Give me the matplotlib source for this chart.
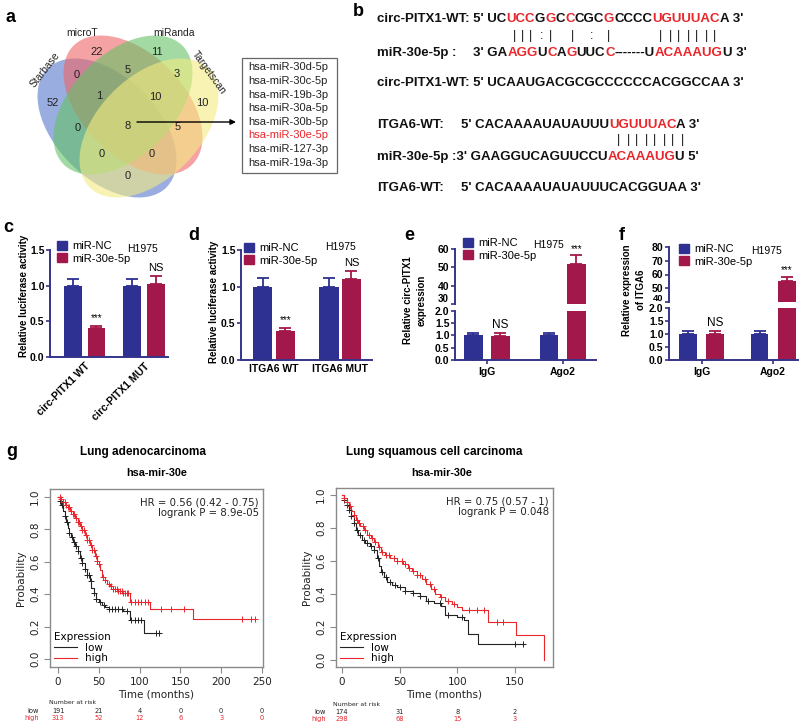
import numpy as np
import matplotlib
matplotlib.use("Agg")
import matplotlib.pyplot as plt
from matplotlib.patches import Ellipse, Rectangle, Patch
from matplotlib.lines import Line2D
from matplotlib.font_manager import FontProperties
import matplotlib.transforms as mtransforms

plt.rcParams['font.family'] = ['Liberation Sans', 'DejaVu Sans']

# ---------------- data ----------------
# panel a: Venn
venn_names = ['Starbase', 'microT', 'miRanda', 'Targetscan']
venn_colors = ['#5577cc', '#ee6466', '#66c266', '#f4ec80']
venn_regions = ['A', 'B', 'C', 'D', 'AB', 'BC', 'CD', 'ABC', 'BCD', 'AC', 'ABCD', 'BD', 'ACD', 'ABD', 'AD']
venn_counts = [52, 22, 11, 10, 0, 5, 3, 1, 10, 0, 8, 5, 0, 0, 0]
common_mirnas = ['hsa-miR-30d-5p', 'hsa-miR-30c-5p', 'hsa-miR-19b-3p', 'hsa-miR-30a-5p',
                 'hsa-miR-30b-5p', 'hsa-miR-30e-5p', 'hsa-miR-127-3p', 'hsa-miR-19a-3p']
highlight_mirna = 'hsa-miR-30e-5p'

# panel c
c_groups = ['circ-PITX1 WT', 'circ-PITX1 MUT']
c_nc = [1.0, 1.0]
c_nc_err = [0.09, 0.10]
c_mir = [0.41, 1.02]
c_mir_err = [0.03, 0.12]
c_marks = ['***', 'NS']
# panel d
d_groups = ['ITGA6 WT', 'ITGA6 MUT']
d_nc = [1.0, 1.0]
d_nc_err = [0.12, 0.12]
d_mir = [0.40, 1.10]
d_mir_err = [0.04, 0.11]
d_marks = ['***', 'NS']
# panel e
e_groups = ['IgG', 'Ago2']
e_nc = [1.0, 1.0]
e_nc_err = [0.12, 0.10]
e_mir = [0.97, 52.0]
e_mir_err = [0.13, 4.5]
e_marks = ['NS', '***']
# panel f
f_groups = ['IgG', 'Ago2']
f_nc = [1.0, 1.0]
f_nc_err = [0.10, 0.10]
f_mir = [1.0, 55.0]
f_mir_err = [0.12, 3.5]
f_marks = ['NS', '***']

# panel g: Kaplan-Meier (step points)
luad_low_t = [0, 2, 4, 6, 8, 10, 12, 14, 16, 18, 21, 24, 27, 30, 33, 36, 39, 41, 44, 47, 50, 54, 58, 62, 80, 88, 105, 125]
luad_low_s = [1.0, 0.975, 0.95, 0.915, 0.88, 0.845, 0.81, 0.78, 0.75, 0.72, 0.695, 0.665, 0.625, 0.59, 0.555, 0.52,
              0.48, 0.44, 0.41, 0.37, 0.35, 0.335, 0.32, 0.31, 0.295, 0.242, 0.16, 0.16]
luad_low_cens = [3, 5, 8, 11, 14, 17, 19, 22, 25, 28, 30, 33, 36, 38, 40, 44, 47, 52, 56, 63, 66, 70, 74, 78,
                 85, 90, 94, 98, 102, 120, 124]
luad_high_t = [0, 3, 6, 9, 12, 15, 18, 21, 24, 27, 30, 33, 36, 39, 42, 45, 48, 50, 52, 54, 57, 60, 64, 68, 73, 79,
               88, 113, 166, 242]
luad_high_s = [1.0, 0.985, 0.97, 0.95, 0.935, 0.915, 0.895, 0.87, 0.845, 0.82, 0.795, 0.765, 0.735, 0.705, 0.67,
               0.635, 0.605, 0.585, 0.55, 0.505, 0.485, 0.465, 0.45, 0.435, 0.42, 0.41, 0.355, 0.31, 0.248, 0.248]
luad_high_cens = [2, 4, 6, 8, 10, 12, 14, 16, 18, 20, 22, 24, 26, 28, 30, 32, 34, 36, 38, 40, 42, 44, 46, 48, 50,
                  55, 58, 62, 65, 68, 70, 72, 74, 76, 78, 80, 82, 84, 86, 90, 94, 98, 102, 106, 110, 126, 138, 154,
                  226, 236, 242]
luad_risk_t = [0, 50, 100, 150, 200, 250]
luad_risk_low = [191, 21, 4, 0, 0, 0]
luad_risk_high = [313, 52, 12, 6, 3, 0]
luad_stats = ['HR = 0.56 (0.42 - 0.75)', 'logrank P = 8.9e-05']

lusc_low_t = [0, 2, 4, 6, 8, 10, 12, 14, 17, 20, 24, 28, 30, 32, 34, 36, 39, 43, 48, 55, 62, 68, 73, 80, 86, 89,
              100, 106, 109, 118, 158]
lusc_low_s = [1.0, 0.97, 0.94, 0.91, 0.87, 0.83, 0.79, 0.76, 0.73, 0.71, 0.69, 0.665, 0.62, 0.57, 0.535, 0.505,
              0.475, 0.455, 0.44, 0.42, 0.405, 0.39, 0.36, 0.345, 0.33, 0.275, 0.26, 0.24, 0.155, 0.10, 0.10]
lusc_low_cens = [2, 4, 6, 8, 10, 13, 16, 19, 22, 25, 28, 31, 35, 38, 42, 46, 50, 55, 62, 68, 75, 85, 92, 104,
                 150, 157]
lusc_high_t = [0, 2, 4, 6, 8, 10, 12, 14, 16, 19, 22, 25, 28, 31, 34, 37, 42, 48, 53, 57, 61, 65, 69, 73, 77, 81,
               85, 89, 95, 100, 104, 127, 151, 175]
lusc_high_s = [1.0, 0.98, 0.96, 0.935, 0.905, 0.88, 0.85, 0.83, 0.81, 0.785, 0.76, 0.74, 0.715, 0.685, 0.655,
               0.635, 0.62, 0.60, 0.58, 0.56, 0.54, 0.515, 0.49, 0.46, 0.43, 0.40, 0.38, 0.355, 0.34, 0.32, 0.303,
               0.232, 0.152, 0.0]
lusc_high_cens = [2, 4, 7, 10, 13, 15, 18, 20, 23, 26, 29, 32, 35, 38, 41, 45, 48, 52, 55, 58, 62, 65, 68, 72,
                  76, 80, 86, 92, 97, 110, 117, 123, 134, 140]
lusc_risk_t = [0, 50, 100, 150]
lusc_risk_low = [174, 31, 8, 2]
lusc_risk_high = [298, 68, 15, 3]
lusc_stats = ['HR = 0.75 (0.57 - 1)', 'logrank P = 0.048']

# ---------------- figure helpers ----------------
W, H = 800, 727
fig = plt.figure(figsize=(W / 100, H / 100), dpi=100)
renderer = fig.canvas.get_renderer()
AR = 'Liberation Sans'
DV = 'DejaVu Sans'


def add_ax(x0, y0, x1, y1):
    return fig.add_axes([x0 / W, 1 - y1 / H, (x1 - x0) / W, (y1 - y0) / H])


def ftext(x, y, s, **kw):
    kw.setdefault('family', AR)
    return fig.text(x / W, 1 - y / H, s, **kw)


def seq_text(x, y, segments, size=9.5, weight='bold'):
    prop = FontProperties(family=AR, size=size, weight=weight)
    wM = renderer.get_text_width_height_descent('M', prop, ismath=False)[0]
    prefix = ''
    for s, col in segments:
        off = 0.0
        if prefix:
            off = renderer.get_text_width_height_descent(prefix + 'M', prop, ismath=False)[0] - wM
        ftext(x + off, y, s, color=col, fontsize=size, fontweight=weight, va='center', ha='left')
        prefix += s


# panel letters
for lab, (lx, ly) in {'a': (11, 18), 'b': (358, 11), 'c': (8, 228), 'd': (194, 236),
                      'e': (409, 236), 'f': (622, 236), 'g': (12, 452)}.items():
    ftext(lx, ly, lab, fontsize=13, fontweight='bold', ha='center', va='center')

# ---------------- panel a ----------------
axa = add_ax(0, 0, 240, 210)
axa.set_xlim(0, 240)
axa.set_ylim(210, 0)
axa.axis('off')
ell_a, ell_b = 84, 51
ell_params = [((107, 128), 45), ((133, 105), 45), ((123, 105), -45), ((149, 128), -45)]
for (cxy, ang), col in zip(ell_params, venn_colors):
    axa.add_patch(Ellipse(cxy, 2 * ell_a, 2 * ell_b, angle=ang, facecolor=col, edgecolor='none', alpha=0.6))
region_pos = {'A': (53, 103), 'B': (97, 52), 'C': (157, 52), 'D': (202, 103), 'AB': (77, 75), 'BC': (128, 70),
              'CD': (177, 74), 'ABC': (99, 96), 'BCD': (155, 97), 'AC': (78, 128), 'ABCD': (128, 126),
              'BD': (178, 127), 'ACD': (102, 154), 'ABD': (152, 154), 'AD': (128, 176)}
for reg, cnt in zip(venn_regions, venn_counts):
    rx, ry = region_pos[reg]
    axa.text(rx, ry, str(cnt), fontsize=8, ha='center', va='center', color='#222222')
name_pos = [((45, 70), 52), ((82, 33), 0), ((174, 33), 0), ((209, 73), -54)]
for nm, ((nx, ny), rot) in zip(venn_names, name_pos):
    axa.text(nx, ny, nm, fontsize=7.5, ha='center', va='center', rotation=rot, color='#222222')
axa.annotate('', xy=(236, 122), xytext=(137, 122),
             arrowprops=dict(arrowstyle='-|>', color='black', lw=1.0, mutation_scale=8, shrinkA=0, shrinkB=0))
fig.add_artist(Rectangle((242 / W, 1 - 173 / H), 95 / W, 115 / H, transform=fig.transFigure,
                         facecolor='white', edgecolor='#666666', lw=0.9))
for i, m in enumerate(common_mirnas):
    ftext(248, 67.5 + i * 13.6, m, fontsize=8, va='center', ha='left',
          color='#e8262b' if m == highlight_mirna else '#222222')

# ---------------- panel b ----------------
K, R = '#111111', '#e8262b'
seq_text(377, 19, [("circ-PITX1-WT: 5' UC", K), ("UCC", R), ("G", K), ("G", R), ("C", K), ("C", R), ("CGC", K),
                   ("G", R), ("CCCC", K), ("UGUUUAC", R), ("A 3'", K)])
pair1 = [(515, '|'), (523, '|'), (531, '|'), (542, ':'), (550, '|'), (572, '|'), (592, ':'), (609, '|'),
         (661, '|'), (670, '|'), (679, '|'), (688, '|'), (697, '|'), (706, '|'), (715, '|')]
for xx, ch in pair1:
    ftext(xx, 36, ch, fontsize=9, ha='center', va='center', color=K)
seq_text(377, 53, [("miR-30e-5p :", K)])
seq_text(473, 53, [("3' GA", K), ("AGG", R), ("U", K), ("C", R), ("A", K), ("G", R), ("UUC", K), ("C", R),
                   ("-------U", K), ("ACAAAUG", R), ("U 3'", K)])
seq_text(377, 83, [("circ-PITX1-WT: 5' UCAAUGACGCGCCCCCCACGGCCAA 3'", K)])
seq_text(377, 125, [("ITGA6-WT:", K)])
seq_text(461, 125, [("5' CACAAAAUAUAUUU", K), ("UGUUUAC", R), ("A 3'", K)])
for j in range(8):
    ftext(619 + j * 9, 140, '|', fontsize=9, ha='center', va='center', color=K)
seq_text(377, 157, [("miR-30e-5p :3' GAAGGUCAGUUCCU", K), ("ACAAAUG", R), ("U 5'", K)])
seq_text(377, 188, [("ITGA6-WT:", K)])
seq_text(461, 188, [("5' CACAAAAUAUAUUUCACGGUAA 3'", K)])

# ---------------- panels c-f ----------------
C_NC = '#2e3092'
C_MIR = '#a3184a'
AXC = '#34348a'


def style_bar_ax(ax, bottom=True):
    for s in ['top', 'right']:
        ax.spines[s].set_visible(False)
    ax.spines['left'].set_color(AXC)
    ax.spines['left'].set_linewidth(1.4)
    if bottom:
        ax.spines['bottom'].set_color(AXC)
        ax.spines['bottom'].set_linewidth(1.4)
    else:
        ax.spines['bottom'].set_visible(False)
        ax.tick_params(axis='x', bottom=False, labelbottom=False)
    ax.tick_params(axis='both', direction='out', length=3, width=1.2, color=AXC, labelsize=7.5, pad=1)
    for lb in ax.get_yticklabels():
        lb.set_fontweight('bold')
    ax.patch.set_alpha(0)


def draw_bars(ax, nc, nce, mir, mire, off, width):
    xs = np.arange(len(nc))
    ax.bar(xs - off, nc, width, color=C_NC, zorder=2)
    ax.bar(xs + off, mir, width, color=C_MIR, zorder=2)
    ax.errorbar(xs - off, nc, yerr=[np.zeros(len(nc)), nce], fmt='none', ecolor=C_NC, elinewidth=1.3,
                capsize=4, capthick=1.3, zorder=1)
    ax.errorbar(xs + off, mir, yerr=[np.zeros(len(mir)), mire], fmt='none', ecolor=C_MIR, elinewidth=1.3,
                capsize=4, capthick=1.3, zorder=1)
    return xs


def legend_at(ax, x, y):
    h = [Patch(color=C_NC), Patch(color=C_MIR)]
    ax.legend(h, ['miR-NC', 'miR-30e-5p'], loc='upper left', bbox_to_anchor=(x / W, 1 - y / H),
              bbox_transform=fig.transFigure, frameon=False, handlelength=0.9, handleheight=0.9,
              handletextpad=0.45, labelspacing=0.15, borderaxespad=0, borderpad=0, fontsize=8)


# c
axc = add_ax(50, 250, 168, 357)
xs = draw_bars(axc, c_nc, c_nc_err, c_mir, c_mir_err, 0.2, 0.3)
axc.set_xlim(-0.58, 1.40)
axc.set_ylim(0, 1.5)
axc.set_yticks([0, 0.5, 1.0, 1.5])
axc.set_yticklabels(['0.0', '0.5', '1.0', '1.5'])
axc.set_xticks(xs)
axc.set_xticklabels(c_groups, rotation=45, ha='right', rotation_mode='anchor', fontweight='bold', fontsize=8)
style_bar_ax(axc)
axc.tick_params(axis='x', length=0, pad=3)
for i in range(2):
    axc.text(xs[i] + 0.2, c_mir[i] + c_mir_err[i] + 0.04, c_marks[i], ha='center', va='bottom',
             fontsize=8 if c_marks[i] == 'NS' else 7)
legend_at(axc, 57, 241)
ftext(142, 249, 'H1975', fontsize=7.5, ha='center', va='center')
ftext(24, 296, 'Relative luciferase activity', fontsize=7, fontweight='bold', rotation=90, ha='center', va='center')

# d
axd = add_ax(241, 250, 372, 360)
xs = draw_bars(axd, d_nc, d_nc_err, d_mir, d_mir_err, 0.17, 0.29)
axd.set_xlim(-0.5, 1.48)
axd.set_ylim(0, 1.5)
axd.set_yticks([0, 0.5, 1.0, 1.5])
axd.set_yticklabels(['0.0', '0.5', '1.0', '1.5'])
axd.set_xticks(xs)
axd.set_xticklabels(d_groups, fontweight='bold', fontsize=9)
style_bar_ax(axd)
axd.tick_params(axis='x', length=0, pad=3)
for i in range(2):
    axd.text(xs[i] + 0.17, d_mir[i] + d_mir_err[i] + 0.04, d_marks[i], ha='center', va='bottom',
             fontsize=8 if d_marks[i] == 'NS' else 7)
legend_at(axd, 244, 243)
ftext(341, 247, 'H1975', fontsize=7.5, ha='center', va='center')
ftext(214, 302, 'Relative luciferase activity', fontsize=7, fontweight='bold', rotation=90, ha='center', va='center')


def broken_panel(lo_box, hi_box, nc, nce, mir, mire, off, width, xlim, hi_lim, hi_ticks, groups, marks):
    axl = add_ax(*lo_box)
    axh = add_ax(*hi_box)
    for ax in (axl, axh):
        xs = draw_bars(ax, nc, nce, mir, mire, off, width)
        ax.set_xlim(*xlim)
    axl.set_ylim(0, 2)
    axl.set_yticks([0, 0.5, 1.0, 1.5, 2.0])
    axl.set_yticklabels(['0.0', '0.5', '1.0', '1.5', '2.0'])
    axl.set_xticks(xs)
    axl.set_xticklabels(groups, fontweight='bold', fontsize=8.5)
    axh.set_ylim(*hi_lim)
    axh.set_yticks(hi_ticks)
    axh.set_yticklabels([str(t) for t in hi_ticks])
    style_bar_ax(axl)
    style_bar_ax(axh, bottom=False)
    axl.tick_params(axis='x', pad=2)
    # the lowest label of the upper part is squeezed into the break (drawn separately)
    axh.get_yticklabels()[0].set_visible(False)
    for i in range(2):
        val = mir[i] + mire[i]
        tgt = axl if val < 2 else axh
        tgt.text(xs[i] + off, val + (0.08 if val < 2 else 1.0), marks[i], ha='center', va='bottom',
                 fontsize=8.5 if marks[i] == 'NS' else 7, clip_on=False)
    return axl, axh


# e
axel, axeh = broken_panel((455, 311, 596, 360), (455, 249, 596, 304), e_nc, e_nc_err, e_mir, e_mir_err,
                          0.18, 0.25, (-0.42, 1.44), (30, 60), [30, 40, 50, 60], e_groups, e_marks)
legend_at(axeh, 463, 238)
ftext(549, 245, 'H1975', fontsize=7.5, ha='center', va='center')
ftext(408, 300, 'Relative circ-PITX1', fontsize=7, fontweight='bold', rotation=90, ha='center', va='center')
ftext(422, 300, 'expression', fontsize=7, fontweight='bold', rotation=90, ha='center', va='center')
ftext(443, 299.5, str(30), fontsize=7, fontweight='bold', ha='center', va='center')

# f
axfl, axfh = broken_panel((669, 308, 798, 360), (669, 247, 798, 302), f_nc, f_nc_err, f_mir, f_mir_err,
                          0.19, 0.25, (-0.46, 1.35), (40, 80), [40, 50, 60, 70, 80], f_groups, f_marks)
legend_at(axfh, 679, 244)
ftext(766, 251, 'H1975', fontsize=7.5, ha='center', va='center')
ftext(627, 290, 'Relative expression', fontsize=7, fontweight='bold', rotation=90, ha='center', va='center')
ftext(641, 290, 'of ITGA6', fontsize=7, fontweight='bold', rotation=90, ha='center', va='center')
ftext(658, 298.5, str(40), fontsize=6.8, fontweight='bold', ha='center', va='center')

# ---------------- panel g ----------------
KM_LOW = '#222222'
KM_HIGH = '#e8262b'


def surv_at(t, times, surv):
    idx = np.searchsorted(np.asarray(times), np.asarray(t), side='right') - 1
    return np.asarray(surv)[np.clip(idx, 0, len(surv) - 1)]


def km_panel(box, xlim, ylim, xticks, low_t, low_s, low_c, high_t, high_s, high_c, stats,
             risk_t, risk_low, risk_high, title, sub, title_x, sub_x, risk_y, label_x):
    ax = add_ax(*box)
    ax.step(low_t, low_s, where='post', color=KM_LOW, lw=0.8)
    ax.step(high_t, high_s, where='post', color=KM_HIGH, lw=0.8)
    ax.plot(low_c, surv_at(low_c, low_t, low_s), '+', color=KM_LOW, ms=4, mew=0.7, ls='none')
    ax.plot(high_c, surv_at(high_c, high_t, high_s), '+', color=KM_HIGH, ms=4, mew=0.7, ls='none')
    ax.set_xlim(*xlim)
    ax.set_ylim(*ylim)
    ax.set_xticks(xticks)
    ax.set_yticks([0, 0.2, 0.4, 0.6, 0.8, 1.0])
    ax.set_yticklabels(['0.0', '0.2', '0.4', '0.6', '0.8', '1.0'], rotation=90, va='center')
    for s in ax.spines.values():
        s.set_color('#8a8a8a')
        s.set_linewidth(1.0)
    ax.tick_params(axis='both', direction='out', length=4, color='#8a8a8a', labelsize=7.5, pad=3)
    for lb in ax.get_xticklabels() + ax.get_yticklabels():
        lb.set_family(DV)
        lb.set_color('#222222')
    ax.set_xlabel('Time (months)', fontsize=7.5, family=DV, color='#222222', labelpad=2)
    ax.set_ylabel('Probability', fontsize=7.5, family=DV, color='#222222', labelpad=3)
    ax.text(0.98, 0.955, stats[0] + '\n' + stats[1], transform=ax.transAxes, ha='right', va='top',
            fontsize=7.3, family=DV, color='#222222', linespacing=1.15)
    hl = [Line2D([], [], color=KM_LOW, lw=0.8), Line2D([], [], color=KM_HIGH, lw=0.8)]
    ax.legend(hl, ['low', 'high'], title='Expression', loc='lower left', frameon=False,
              title_fontsize=7.5, prop={'family': DV, 'size': 7.5}, handlelength=2.2, handletextpad=0.8,
              labelspacing=0.05, borderaxespad=0.15, borderpad=0.2)
    ax.get_legend().get_title().set_family(DV)
    ax.get_legend()._legend_box.align = 'left'
    ftext(title_x, 452, title, fontsize=8.5, fontweight='bold', ha='center', va='center')
    ftext(sub_x, 473, sub, fontsize=7.8, fontweight='bold', ha='center', va='center')
    tr = mtransforms.blended_transform_factory(ax.transData, fig.transFigure)
    ax.text(risk_t[0] - (xlim[1] - xlim[0]) * 0.04, 1 - risk_y[0] / H, 'Number at risk', transform=tr,
            fontsize=4.5, family=DV, ha='left', va='center', color='#222222', clip_on=False)
    for tt, nl, nh in zip(risk_t, risk_low, risk_high):
        ax.text(tt, 1 - risk_y[1] / H, str(nl), transform=tr, fontsize=4.8, family=DV, ha='center',
                va='center', color='#222222', clip_on=False)
        ax.text(tt, 1 - risk_y[2] / H, str(nh), transform=tr, fontsize=4.8, family=DV, ha='center',
                va='center', color=KM_HIGH, clip_on=False)
    ftext(label_x, risk_y[1], 'low', fontsize=4.8, family=DV, ha='right', va='center', color='#222222')
    ftext(label_x, risk_y[2], 'high', fontsize=4.8, family=DV, ha='right', va='center', color=KM_HIGH)
    return ax


km_panel((50, 489, 263, 667), (-9.8, 251.2), (-0.049, 1.049), [0, 50, 100, 150, 200, 250],
         luad_low_t, luad_low_s, luad_low_cens, luad_high_t, luad_high_s, luad_high_cens, luad_stats,
         luad_risk_t, luad_risk_low, luad_risk_high, 'Lung adenocarcinoma', 'hsa-mir-30e', 143, 157,
         (703, 711, 718), 39)
km_panel((336, 488, 553, 667), (-5.2, 183.0), (-0.042, 1.042), [0, 50, 100, 150],
         lusc_low_t, lusc_low_s, lusc_low_cens, lusc_high_t, lusc_high_s, lusc_high_cens, lusc_stats,
         lusc_risk_t, lusc_risk_low, lusc_risk_high, 'Lung squamous cell carcinoma', 'hsa-mir-30e', 434, 442,
         (705, 712, 719), 326)

fig.savefig('out.png', dpi=100, facecolor='white')
